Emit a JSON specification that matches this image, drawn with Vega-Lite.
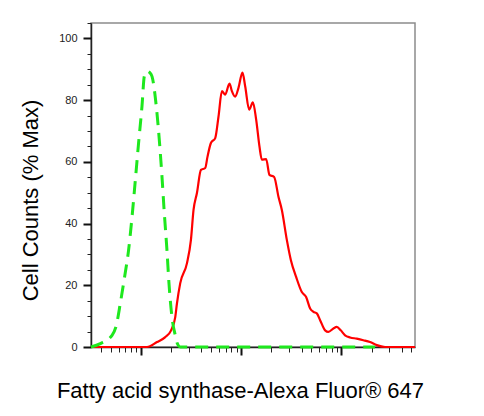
{
  "$schema": "https://vega.github.io/schema/vega-lite/v6.json",
  "width": 324,
  "height": 324,
  "autosize": {"type": "none"},
  "padding": {"left": 91, "top": 23, "right": 69, "bottom": 69},
  "background": "white",
  "config": {
    "font": "Liberation Sans",
    "view": {"stroke": "#8c8c8c", "strokeWidth": 1.5}
  },
  "datasets": {
    "red": [
      {"x": 31.7, "y": 0}, {"x": 114.8, "y": 0}, {"x": 144.4, "y": 1.6}, {"x": 174.7, "y": 3.2},
      {"x": 199.1, "y": 5.3}, {"x": 219.8, "y": 9.7}, {"x": 228.5, "y": 14.1}, {"x": 246.5, "y": 20.7},
      {"x": 287.4, "y": 27.1}, {"x": 315.1, "y": 34.7}, {"x": 334.5, "y": 44.4}, {"x": 361.7, "y": 49.9},
      {"x": 396.6, "y": 57.4}, {"x": 437.7, "y": 58}, {"x": 461.3, "y": 61.7}, {"x": 498.8, "y": 66.1},
      {"x": 550.7, "y": 67.7}, {"x": 593.9, "y": 74.7}, {"x": 642, "y": 82.9}, {"x": 692.7, "y": 81.8},
      {"x": 764.5, "y": 85.4}, {"x": 807.8, "y": 82.9}, {"x": 871.4, "y": 81.1}, {"x": 940, "y": 84},
      {"x": 1030, "y": 88.9}, {"x": 1096, "y": 84.5}, {"x": 1202, "y": 76.9}, {"x": 1308, "y": 79.3},
      {"x": 1411, "y": 73.7}, {"x": 1522, "y": 65}, {"x": 1608, "y": 60.7}, {"x": 1775, "y": 60.9},
      {"x": 1915, "y": 55.8}, {"x": 2133, "y": 55.1}, {"x": 2355, "y": 48.7}, {"x": 2546, "y": 44.4},
      {"x": 2855, "y": 34.7}, {"x": 3130, "y": 28.2}, {"x": 3535, "y": 22.7}, {"x": 4030, "y": 17.8},
      {"x": 4447, "y": 16.2}, {"x": 4875, "y": 12.5}, {"x": 5260, "y": 11.4}, {"x": 5685, "y": 10.9},
      {"x": 6134, "y": 8.7}, {"x": 6879, "y": 5.4}, {"x": 7422, "y": 4.9}, {"x": 8324, "y": 6.0},
      {"x": 8999, "y": 6.5}, {"x": 9863, "y": 5.4}, {"x": 10886, "y": 3.8}, {"x": 12212, "y": 3.1},
      {"x": 14237, "y": 2.7}, {"x": 16570, "y": 2.2}, {"x": 19325, "y": 1.6}, {"x": 22540, "y": 0.6},
      {"x": 27280, "y": 0}, {"x": 54300, "y": 0}
    ],
    "green": [
      {"x": 31.7, "y": 0}, {"x": 39.3, "y": 1.1}, {"x": 51.4, "y": 3.8}, {"x": 56.7, "y": 7.0},
      {"x": 62.2, "y": 14.2}, {"x": 68.6, "y": 22.7}, {"x": 75.2, "y": 31.4}, {"x": 81.4, "y": 42.2},
      {"x": 87.8, "y": 54.1}, {"x": 94.6, "y": 66.1}, {"x": 102.3, "y": 78}, {"x": 107.9, "y": 87.7},
      {"x": 114.8, "y": 89.4}, {"x": 121.8, "y": 89}, {"x": 128.8, "y": 87.7}, {"x": 142.1, "y": 78},
      {"x": 153.2, "y": 66.1}, {"x": 162, "y": 55.2}, {"x": 170.8, "y": 43.5}, {"x": 181.6, "y": 31.4},
      {"x": 190.2, "y": 20.7}, {"x": 203.8, "y": 9.7}, {"x": 219.8, "y": 3.8}, {"x": 230.1, "y": 1.2},
      {"x": 246.5, "y": 0}, {"x": 21680, "y": 0}
    ]
  },
  "layer": [
    {
      "data": {"name": "red"},
      "mark": {"type": "line", "color": "#ff0000", "strokeWidth": 2.2, "interpolate": "monotone"},
      "encoding": {
        "x": {
          "field": "x", "type": "quantitative",
          "scale": {"type": "log", "domain": [31.7, 54300], "nice": false},
          "axis": {
            "orient": "bottom",
            "values": [40, 50, 60, 70, 80, 90, 200, 300, 400, 500, 600, 700, 800, 900, 2000, 3000, 4000, 5000, 6000, 7000, 8000, 9000, 20000, 30000, 40000, 50000],
            "labels": false, "grid": false,
            "domain": true, "domainColor": "#222", "domainWidth": 1.5,
            "ticks": true, "tickSize": 5, "tickWidth": 1, "tickColor": "#222",
            "title": "Fatty acid synthase-Alexa Fluor® 647",
            "titleFontSize": 22, "titleFontWeight": "normal", "titleColor": "#000",
            "titleX": 149, "titleY": 50, "titleAlign": "center", "titleBaseline": "alphabetic"
          }
        },
        "y": {
          "field": "y", "type": "quantitative",
          "scale": {"domain": [0, 105], "nice": false, "zero": true},
          "axis": {
            "orient": "left",
            "values": [0, 5, 10, 15, 20, 25, 30, 35, 40, 45, 50, 55, 60, 65, 70, 75, 80, 85, 90, 95, 100, 105],
            "labels": false, "grid": false,
            "domain": true, "domainColor": "#222", "domainWidth": 1.5,
            "ticks": true, "tickSize": 4, "tickWidth": 1, "tickColor": "#222",
            "title": null
          }
        }
      }
    },
    {
      "data": {"name": "green"},
      "mark": {"type": "line", "color": "#1ee81e", "strokeWidth": 3, "strokeDash": [13, 8], "strokeCap": "butt", "interpolate": "monotone"},
      "encoding": {
        "x": {
          "field": "x", "type": "quantitative",
          "scale": {"type": "log", "domain": [31.7, 54300], "nice": false},
          "axis": {
            "orient": "bottom",
            "values": [100, 1000, 10000],
            "labels": false, "grid": false, "domain": false,
            "ticks": true, "tickSize": 8, "tickWidth": 2, "tickColor": "#111",
            "title": null
          }
        },
        "y": {
          "field": "y", "type": "quantitative",
          "scale": {"domain": [0, 105], "nice": false, "zero": true},
          "axis": {
            "orient": "left",
            "values": [0, 20, 40, 60, 80, 100],
            "grid": false, "domain": false,
            "ticks": true, "tickSize": 8, "tickWidth": 2, "tickColor": "#111",
            "labels": true, "labelFontSize": 11, "labelColor": "#222", "labelPadding": 6,
            "labelFont": "Liberation Sans",
            "title": "Cell Counts (% Max)",
            "titleFontSize": 22, "titleFontWeight": "normal", "titleColor": "#000",
            "titleX": -54, "titleY": 177, "titleAngle": -90, "titleAlign": "center", "titleBaseline": "alphabetic"
          }
        }
      }
    }
  ],
  "resolve": {"axis": {"x": "independent", "y": "independent"}}
}
